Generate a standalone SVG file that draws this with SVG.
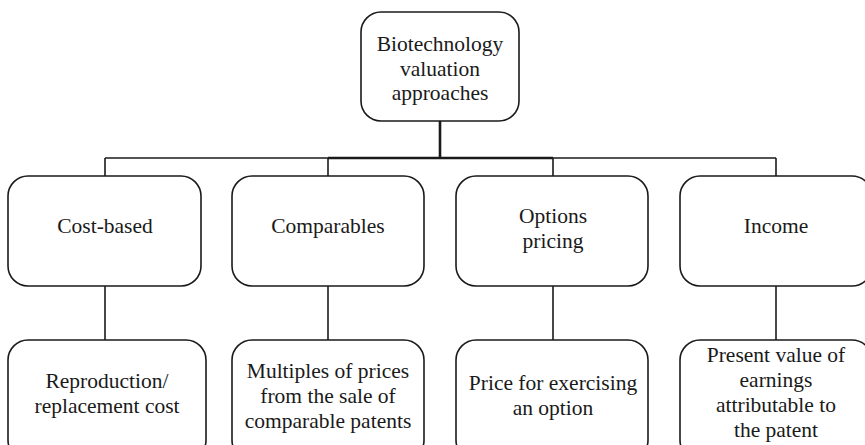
<svg xmlns="http://www.w3.org/2000/svg" width="865" height="445" viewBox="0 0 865 445">
<style>
.box{fill:#fff;stroke:#1a1a1a;stroke-width:1.6}
.ln{stroke:#1a1a1a;stroke-width:1.6;fill:none}
.thick{stroke:#1a1a1a;stroke-width:2.6;fill:none}
text{font-family:"Liberation Serif","DejaVu Serif",serif;font-size:21.5px;fill:#1a1a1a;text-anchor:middle}
</style>
<rect width="865" height="445" fill="#fff"/>
<g id="connectors">
<line class="ln" x1="105" y1="158" x2="776" y2="158"/>
<line class="thick" x1="328" y1="158" x2="553" y2="158"/>
<line class="thick" x1="440" y1="121" x2="440" y2="158"/>
<line class="ln" x1="105" y1="158" x2="105" y2="176"/>
<line class="ln" x1="328" y1="158" x2="328" y2="176"/>
<line class="ln" x1="553" y1="158" x2="553" y2="176"/>
<line class="ln" x1="776" y1="158" x2="776" y2="176"/>
<line class="ln" x1="105" y1="286" x2="105" y2="340"/>
<line class="ln" x1="328" y1="286" x2="328" y2="340"/>
<line class="ln" x1="553" y1="286" x2="553" y2="340"/>
<line class="ln" x1="776" y1="286" x2="776" y2="340"/>
</g>
<g id="root">
<rect class="box" x="361" y="12" width="158" height="109" rx="20"/>
<text x="440" y="51">Biotechnology</text>
<text x="440" y="76">valuation</text>
<text x="440" y="100">approaches</text>
</g>
<g id="cost-based">
<rect class="box" x="8" y="176" width="193" height="110" rx="20"/>
<text x="105" y="233">Cost-based</text>
</g>
<g id="comparables">
<rect class="box" x="232" y="176" width="192" height="110" rx="20"/>
<text x="328" y="233">Comparables</text>
</g>
<g id="options-pricing">
<rect class="box" x="456" y="176" width="192" height="110" rx="20"/>
<text x="553" y="223">Options</text>
<text x="553" y="248">pricing</text>
</g>
<g id="income">
<rect class="box" x="680" y="176" width="192" height="110" rx="20"/>
<text x="776" y="233">Income</text>
</g>
<g id="reproduction">
<rect class="box" x="8" y="340" width="198" height="120" rx="20"/>
<text x="107" y="388">Reproduction/</text>
<text x="107" y="413">replacement cost</text>
</g>
<g id="multiples">
<rect class="box" x="232" y="340" width="192" height="120" rx="20"/>
<text x="328" y="378">Multiples of prices</text>
<text x="328" y="403">from the sale of</text>
<text x="328" y="428">comparable patents</text>
</g>
<g id="price-option">
<rect class="box" x="456" y="340" width="192" height="120" rx="20"/>
<text x="553" y="390">Price for exercising</text>
<text x="553" y="415">an option</text>
</g>
<g id="present-value">
<rect class="box" x="680" y="340" width="192" height="120" rx="20"/>
<text x="776" y="362">Present value of</text>
<text x="776" y="387">earnings</text>
<text x="776" y="412">attributable to</text>
<text x="776" y="437">the patent</text>
</g>
</svg>
